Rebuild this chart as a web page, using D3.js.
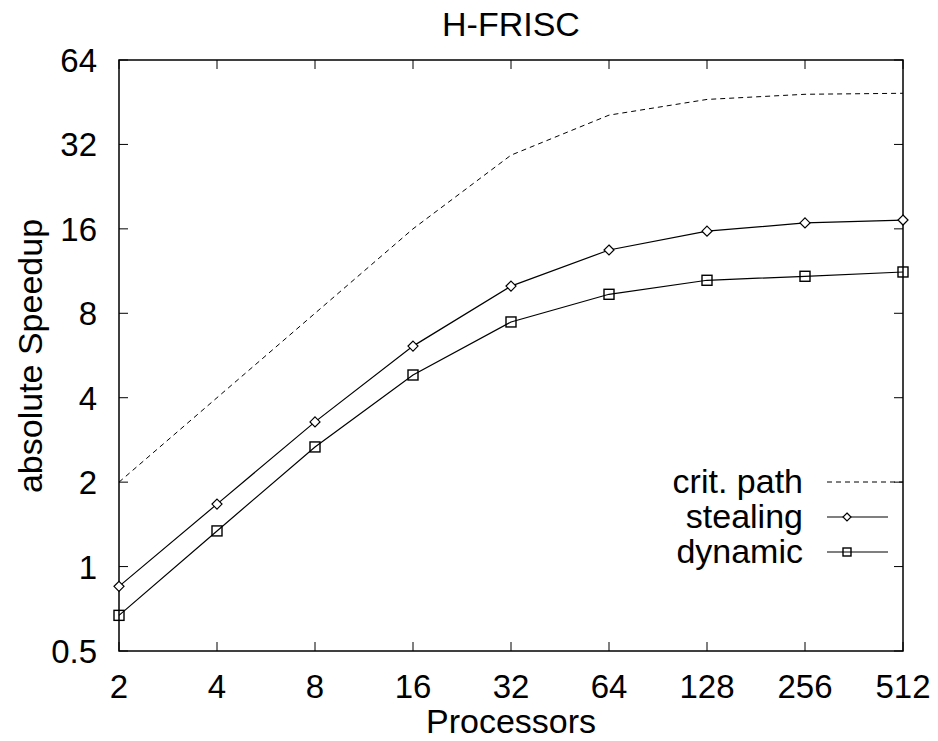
<!DOCTYPE html>
<html><head><meta charset="utf-8">
<script src="https://cdn.jsdelivr.net/npm/d3@7"></script>
<style>body{margin:0;background:#fff}svg{display:block}text{font-family:"Liberation Sans",Arial,sans-serif;fill:#000}</style>
</head><body>
<svg id="c" width="938" height="741"></svg>
<script>
const processors = [2,4,8,16,32,64,128,256,512];
const critPath = [2,4,8,16,29.3,40.7,46.3,48.3,48.7];
const stealing = [0.85,1.67,3.28,6.11,10.0,13.45,15.7,16.8,17.2];
const dynamic  = [0.67,1.34,2.67,4.82,7.45,9.35,10.49,10.84,11.23];
const yTicks = [0.5,1,2,4,8,16,32,64];
const seriesNames = ["crit. path","stealing","dynamic"];

const svg = d3.select("#c");
const L=119, R=903, T=60, B=651;
const x = d3.scaleLog().base(2).domain([2,512]).range([L,R]);
const y = d3.scaleLog().base(2).domain([0.5,64]).range([B,T]);
const tl = 9, fs = 34;
const g = svg.append("g");

g.append("rect").attr("x",L).attr("y",T).attr("width",R-L).attr("height",B-T)
 .attr("fill","none").attr("stroke","#000").attr("stroke-width",1.5);

processors.forEach(p=>{
  const xx=x(p);
  g.append("line").attr("x1",xx).attr("x2",xx).attr("y1",B).attr("y2",B-tl).attr("stroke","#000");
  g.append("line").attr("x1",xx).attr("x2",xx).attr("y1",T).attr("y2",T+tl).attr("stroke","#000");
  g.append("text").attr("x",xx).attr("y",698).attr("text-anchor","middle").attr("font-size",fs-1).text(p);
});
yTicks.forEach(v=>{
  const yy=y(v);
  g.append("line").attr("x1",L).attr("x2",L+tl).attr("y1",yy).attr("y2",yy).attr("stroke","#000");
  g.append("line").attr("x1",R).attr("x2",R-tl).attr("y1",yy).attr("y2",yy).attr("stroke","#000");
  g.append("text").attr("x",97).attr("y",yy+12).attr("text-anchor","end").attr("font-size",fs-1).text(v);
});

svg.append("text").attr("x",511).attr("y",36).attr("text-anchor","middle").attr("font-size",fs).text("H-FRISC");
svg.append("text").attr("x",511).attr("y",733).attr("text-anchor","middle").attr("font-size",fs).text("Processors");
svg.append("text").attr("transform","translate(42,356) rotate(-90)").attr("text-anchor","middle").attr("font-size",fs).text("absolute Speedup");

const line = d3.line().x((d,i)=>x(processors[i])).y(d=>y(d));
g.append("path").attr("d",line(critPath)).attr("fill","none").attr("stroke","#000").attr("stroke-width",1).attr("stroke-dasharray","5,4");
g.append("path").attr("d",line(stealing)).attr("fill","none").attr("stroke","#000").attr("stroke-width",1.2);
g.append("path").attr("d",line(dynamic)).attr("fill","none").attr("stroke","#000").attr("stroke-width",1.2);

function diamond(sel,cx,cy,r){ sel.append("path").attr("d",`M${cx},${cy-r}L${cx+r},${cy}L${cx},${cy+r}L${cx-r},${cy}Z`).attr("fill","#fff").attr("stroke","#000").attr("stroke-width",1.2); }
function square(sel,cx,cy,r){ sel.append("rect").attr("x",cx-r).attr("y",cy-r).attr("width",2*r).attr("height",2*r).attr("fill","none").attr("stroke","#000").attr("stroke-width",1.4); }
stealing.forEach((v,i)=>diamond(g,x(processors[i]),y(v),5));
dynamic.forEach((v,i)=>square(g,x(processors[i]),y(v),5));

const ly=[482,517,552];
seriesNames.forEach((n,i)=>{
  g.append("text").attr("x",803).attr("y",ly[i]+11).attr("text-anchor","end").attr("font-size",fs).text(n);
});
g.append("line").attr("x1",827).attr("x2",903).attr("y1",ly[0]).attr("y2",ly[0]).attr("stroke","#000").attr("stroke-dasharray","5,4");
g.append("line").attr("x1",827).attr("x2",888).attr("y1",ly[1]).attr("y2",ly[1]).attr("stroke","#000").attr("stroke-width",1.2);
g.append("line").attr("x1",827).attr("x2",888).attr("y1",ly[2]).attr("y2",ly[2]).attr("stroke","#000").attr("stroke-width",1.2);
diamond(g,847,ly[1],4);
square(g,847,ly[2],4);
</script>
</body></html>
